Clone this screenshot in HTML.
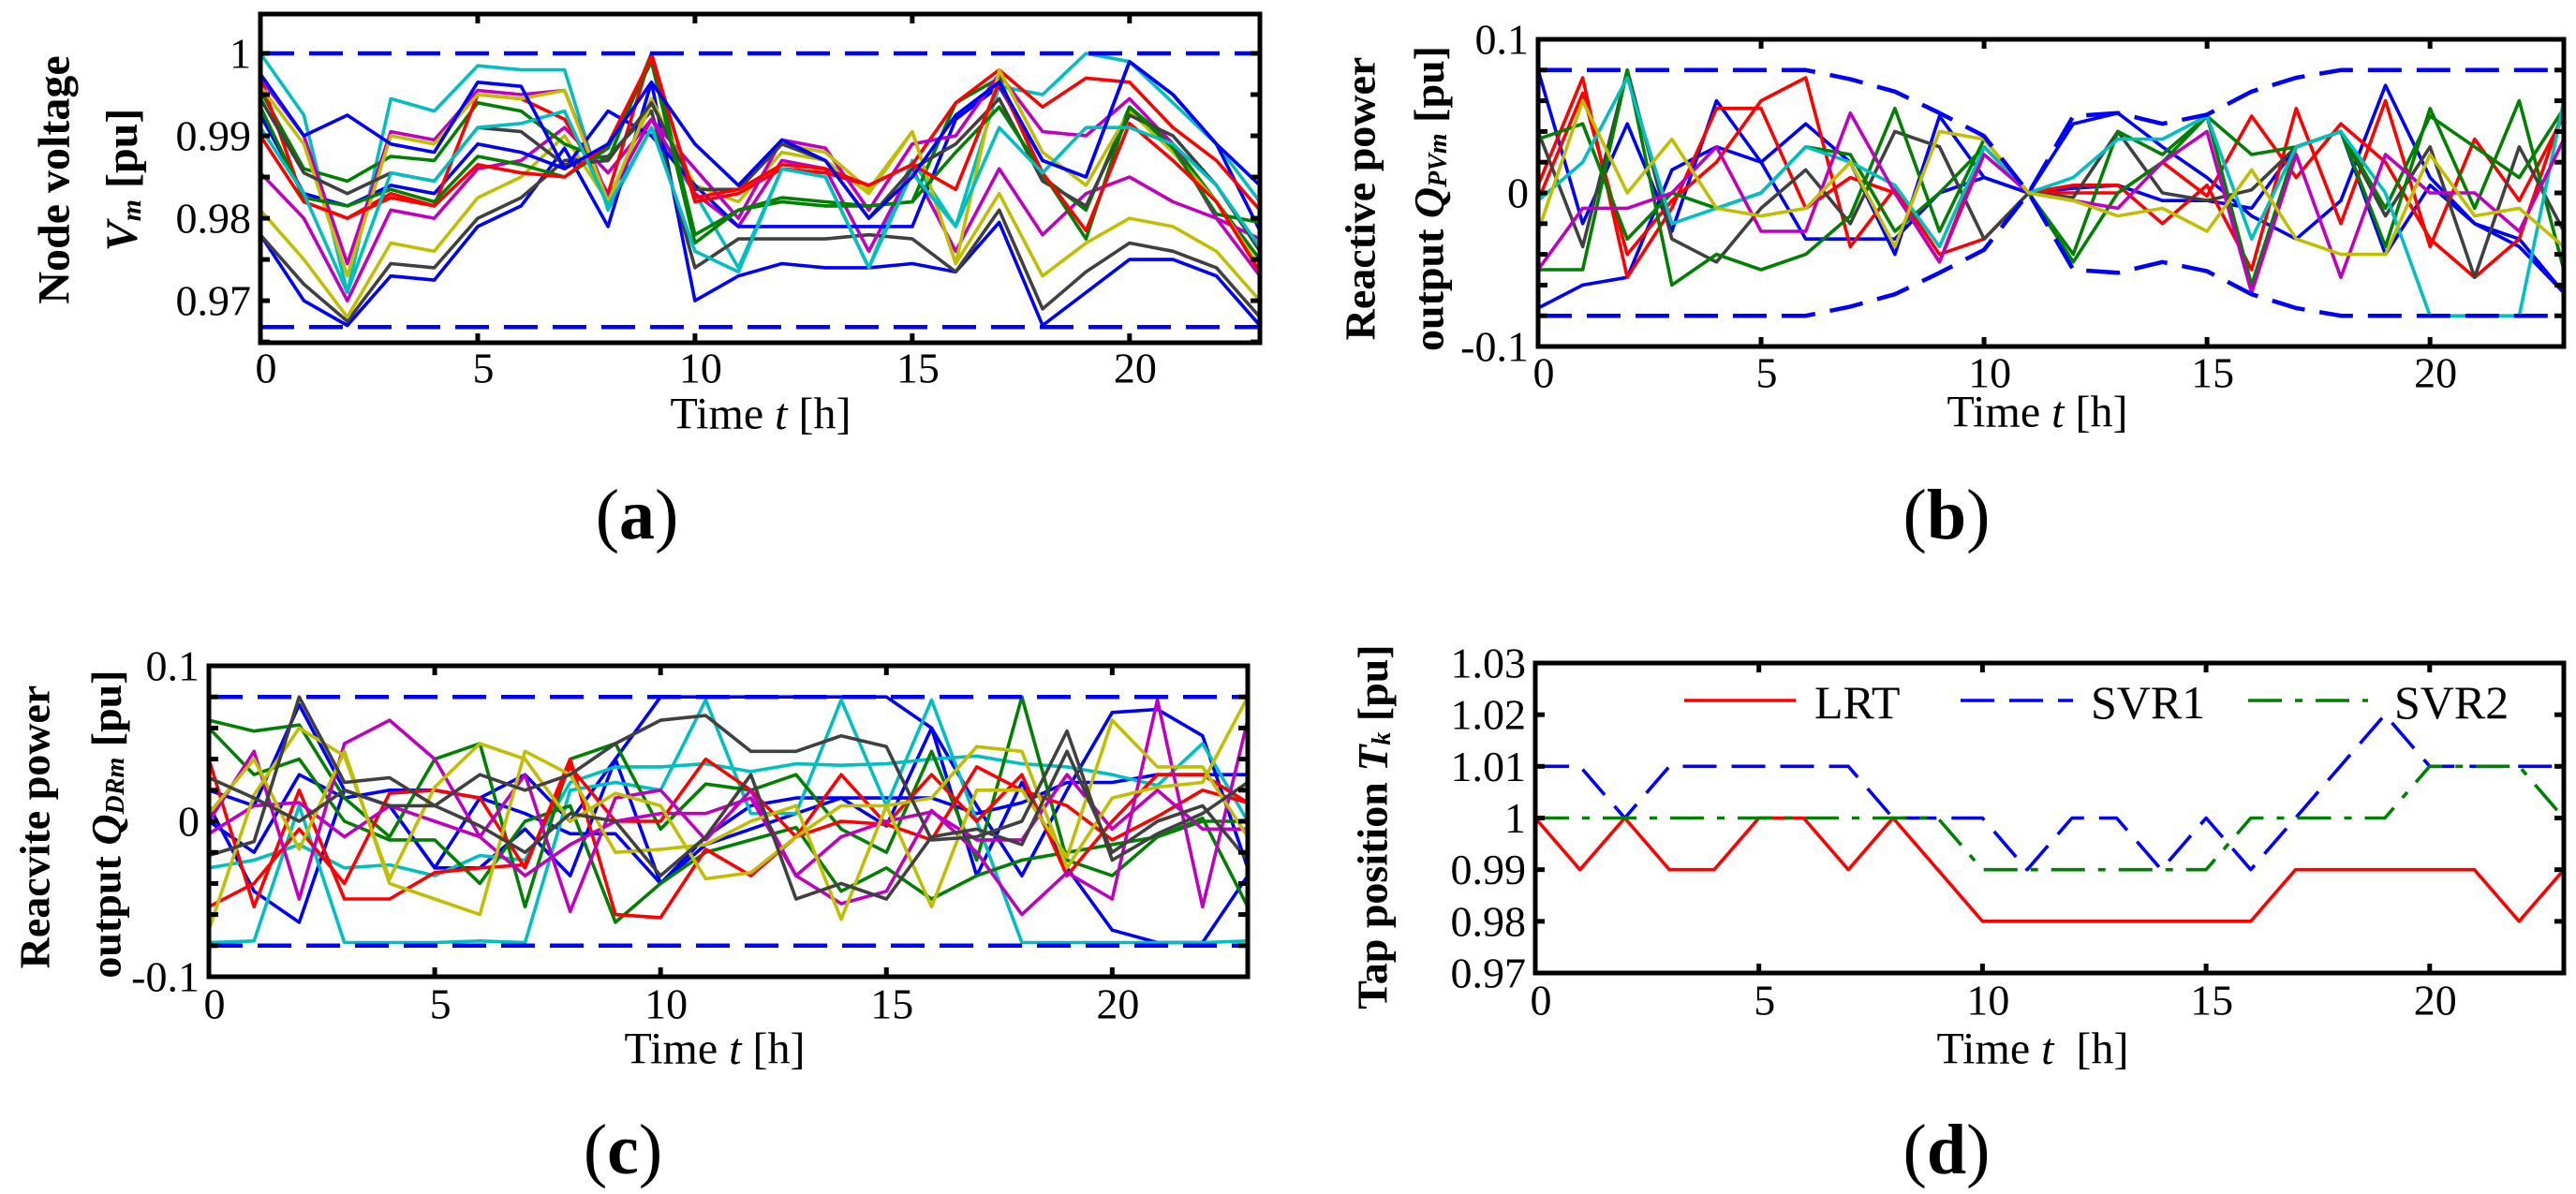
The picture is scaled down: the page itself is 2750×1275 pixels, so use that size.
<!DOCTYPE html>
<html><head><meta charset="utf-8"><title>Voltage, reactive power and tap position results</title>
<style>
html,body{margin:0;padding:0;background:#fff;}
svg{display:block;}
text{font-family:"Liberation Serif",serif;fill:#000;}
</style></head>
<body>
<svg id="fig" width="2750" height="1275" viewBox="0 0 2750 1275" xmlns="http://www.w3.org/2000/svg">
<rect x="0" y="0" width="2750" height="1275" fill="#fff"/>
</svg>
<script>
// ---------- shared data ----------
const hours = [0,1,2,3,4,5,6,7,8,9,10,11,12,13,14,15,16,17,18,19,20,21,22,23];
const xTickValues = [0,5,10,15,20];
const xTickLabels = ["0","5","10","15","20"];

// ---------- panel (a) data ----------
const aYTicks = [0.965,0.97,0.975,0.98,0.985,0.99,0.995,1.0];
const aYLabels = ["","0.97","","0.98","","0.99","","1"];
const aLimits = [1.0, 0.9668];
const aSeriesColors = ["#00bfbf","#0000ff","#404040","#bfbf00","#bf00bf","#0000ff","#008000","#ff0000","#bf00bf","#bfbf00","#404040","#008000","#ff0000","#00bfbf","#0000ff"];
const aS1 = [1.0,.9925,.971,.9945,.993,.9985,.998,.998,.981,.991,.983,.974,.986,.985,.974,.987,.979,.996,.995,1.0,.999,.994,.989,.982];
const aS2 = [.978,.970,.967,.973,.9725,.979,.9815,.9885,.979,.9965,.970,.973,.9745,.974,.974,.9745,.9735,.9795,.967,.971,.975,.975,.973,.967];
const aS3 = [.978,.972,.9675,.9745,.974,.980,.9825,.987,.9875,.993,.974,.9775,.9775,.9775,.978,.9775,.9735,.981,.969,.9735,.977,.976,.974,.968];
const aS4 = [.981,.975,.968,.977,.976,.9825,.985,.990,.982,.994,.984,.982,.988,.987,.983,.9905,.9745,.983,.973,.977,.980,.979,.976,.970];
const aS5 = [.9855,.980,.970,.981,.980,.986,.987,.991,.9855,.992,.983,.979,.987,.986,.976,.986,.976,.986,.978,.983,.985,.982,.980,.973];
const aS6 = [.9925,.983,.9815,.984,.983,.989,.988,.986,.993,.990,.984,.979,.979,.979,.979,.979,.992,.996,.987,.985,.999,.995,.989,.9785];
const aS7 = [.9955,.986,.9845,.9875,.987,.994,.993,.989,.987,1.0,.978,.981,.982,.9815,.9815,.982,.994,.997,.985,.981,.9935,.989,.982,.975];
const aS8 = [.997,.982,.980,.983,.9815,.995,.9945,.992,.983,1.0,.982,.983,.986,.9855,.984,.9865,.994,.998,.9935,.997,.9965,.991,.987,.981];
const aS9 = [.997,.990,.9745,.9905,.9895,.9955,.995,.9955,.9825,.992,.986,.980,.9895,.9885,.981,.989,.990,.9975,.9905,.990,.9945,.989,.980,.9775];
const aS10 = [.996,.989,.973,.990,.989,.995,.9945,.9955,.982,.9945,.9835,.9835,.989,.988,.9835,.9905,.9745,.998,.988,.984,.993,.988,.982,.974];
const aS11 = [.9945,.9855,.983,.9855,.9845,.991,.9905,.9865,.987,.994,.9835,.9835,.989,.987,.980,.986,.989,.9945,.9845,.9815,.9925,.990,.984,.976];
const aS12 = [.9935,.9825,.9815,.9835,.982,.9875,.9865,.985,.9885,.999,.977,.981,.9825,.982,.9815,.982,.988,.9935,.9855,.9775,.9935,.9885,.9805,.9795];
const aS13 = [.990,.982,.980,.9825,.9815,.9865,.9855,.985,.989,.9995,.9825,.9835,.9865,.986,.984,.9865,.9835,.9965,.9855,.9785,.9915,.987,.982,.9735];
const aS14 = [.991,.983,.971,.9855,.9845,.991,.9915,.993,.9815,.991,.976,.9735,.986,.985,.974,.9855,.979,.991,.9855,.991,.991,.989,.984,.9765];
const aS15 = [.9975,.990,.9925,.989,.988,.9965,.996,.986,.989,.9965,.989,.984,.9895,.987,.980,.985,.9925,.9965,.987,.985,.999,.995,.989,.984];

// ---------- panel (b) data ----------
const bYTicks = [-0.1,-0.08,-0.06,-0.04,-0.02,0,0.02,0.04,0.06,0.08,0.1];
const bYLabels = ["-0.1","","","","","0","","","","","0.1"];
const bBound = [.08,.08,.08,.08,.08,.08,.08,.074,.066,.052,.037,0,.05,.052,.045,.051,.066,.075,.08,.08,.08,.08,.08,.08];
const bSeriesColors = ["#0000ff","#0000ff","#ff0000","#ff0000","#404040","#008000","#008000","#00bfbf","#bf00bf","#bfbf00"];
const bS1 = [.08,-.02,.045,-.025,.06,.02,.045,.02,-.04,.05,.01,0,.045,.052,.03,.01,-.015,-.03,-.005,.07,.01,-.02,-.035,-.065];
const bS2 = [-.075,-.06,-.055,.015,.03,.02,-.03,-.03,-.03,.0,.01,0,.003,.005,-.005,-.005,-.01,.03,.04,-.04,.005,-.02,-.03,-.065];
const bS3 = [.005,.075,-.055,-.01,.055,.055,-.01,.01,.0,-.045,.03,0,.005,.005,-.02,.005,-.05,.055,-.02,.06,-.035,.035,-.005,.05];
const bS4 = [-.005,.065,-.04,-.005,.02,.06,.075,-.035,.003,-.04,-.03,0,.0,.0,.02,-.002,.05,.01,.045,.02,-.03,-.055,-.03,.055];
const bS5 = [.04,-.035,.08,-.03,-.045,-.01,.015,-.02,.04,.03,-.03,0,-.003,.04,.0,-.005,.002,.03,.04,-.015,.03,-.055,.03,-.025];
const bS6 = [.035,.045,-.03,.0,-.01,.0,.03,.025,-.025,.0,.03,0,-.045,.0,.02,.05,.025,.03,.04,-.01,.05,.03,.01,.055];
const bS7 = [-.05,-.05,.08,-.06,-.04,-.05,-.04,-.015,.055,-.025,.035,0,-.04,.04,.025,.05,-.06,.03,.04,-.035,.055,-.01,.06,-.05];
const bS8 = [-.005,.02,.075,-.02,-.01,.0,.03,.02,.005,-.035,.03,0,.01,.035,.035,.05,-.03,.03,.04,.0,-.08,-.08,-.08,.06];
const bS9 = [-.05,-.01,-.01,.0,.03,-.025,-.025,.052,.0,-.045,.025,0,-.005,-.01,.02,.04,-.065,.025,-.055,.025,0,.0,-.025,.035];
const bS10 = [-.025,.06,.0,.035,-.01,-.015,-.01,.02,-.035,.04,.035,0,-.005,-.015,-.01,-.025,.015,-.03,-.04,-.04,.025,-.015,-.01,-.035];

// ---------- panel (c) data ----------
const cYTicks = [-0.1,-0.08,-0.06,-0.04,-0.02,0,0.02,0.04,0.06,0.08,0.1];
const cYLabels = ["-0.1","","","","","0","","","","","0.1"];
const cLimits = [0.08,-0.08];
const cSeriesColors = ["#0000ff","#0000ff","#0000ff","#00bfbf","#00bfbf","#008000","#008000","#ff0000","#ff0000","#bf00bf","#bf00bf","#bfbf00","#bfbf00","#404040","#404040"];
const cS1 = [.02,.01,.075,.02,.01,-.03,.015,.03,.0,.04,.08,.08,.08,.08,.08,.08,.06,.01,-.035,.02,.07,.072,.055,-.03];
const cS2 = [.0,-.02,.03,.015,.02,.02,.015,.005,-.008,-.008,-.04,-.01,.01,.015,.015,.015,.015,.005,.012,.025,.025,.03,.03,.03];
const cS3 = [.01,-.045,-.065,.02,.01,-.03,-.03,-.005,-.035,.04,-.04,-.015,-.005,.005,.015,-.003,.06,-.035,.025,-.03,-.07,-.078,-.078,-.035];
const cS4 = [-.03,-.025,-.015,-.03,-.028,-.035,-.022,-.025,.025,.035,.035,.037,.032,.037,.036,.037,.04,.042,.037,.035,.03,.023,.05,.0];
const cS5 = [-.078,-.077,.01,-.078,-.078,-.078,-.077,-.078,.02,.025,.02,.078,.005,.005,.078,.01,.078,.0,-.078,-.078,-.078,-.078,-.078,-.077];
const cS6 = [.065,.058,.062,.015,-.01,.04,.05,-.055,.04,.05,-.005,.024,.02,.03,-.005,-.02,.045,-.025,.08,-.025,-.035,-.01,.0,.0];
const cS7 = [.06,.03,.04,.0,-.012,-.012,-.04,.0,.01,-.065,-.04,-.02,-.012,-.004,-.045,-.03,-.05,-.035,-.025,-.02,-.015,-.01,.002,-.055];
const cS8 = [.04,-.055,.02,-.05,-.05,-.033,-.03,-.028,.035,.0,.0,.04,.02,-.01,.0,-.002,-.012,.035,.02,.01,-.012,.003,.02,.012];
const cS9 = [-.055,-.04,-.005,-.04,.018,.02,.015,-.03,.04,-.06,-.062,-.018,-.035,-.01,.03,-.002,.03,.0,.03,-.035,.0,.03,.03,.012];
const cS10 = [.0,.045,-.05,.05,.065,.04,-.01,.03,-.058,.015,.02,-.012,.02,-.035,-.053,-.045,.007,-.02,-.06,-.033,-.05,.078,-.055,.065];
const cS11 = [-.008,.01,.012,-.01,.01,.0,-.01,-.035,-.015,.0,.005,.005,.015,-.035,-.01,.0,.006,-.012,-.012,.03,-.005,.02,-.005,-.005];
const cS12 = [-.07,.017,.06,.042,-.037,.022,.05,.04,.0,.018,.01,-.037,-.033,-.01,.01,.01,.015,.048,.045,-.03,.015,.022,.025,.08];
const cS13 = [.005,.04,-.018,.045,-.04,-.05,-.06,.045,.03,-.02,-.018,-.015,.0,.01,-.063,.01,-.055,.02,.02,-.023,.065,.035,.035,-.01];
const cS14 = [-.022,-.013,.08,.025,.028,.01,.03,.02,.03,.05,.065,.068,.045,.045,.055,.048,-.012,-.01,.0,.058,-.025,-.008,.005,.025];
const cS15 = [.028,.015,.0,.02,.01,.01,-.003,-.02,.005,.0,-.035,-.01,.03,-.05,-.04,-.05,-.01,-.005,-.015,.045,-.02,.0,.01,-.025];

// ---------- panel (d) data ----------
const dYTicks = [0.97,0.98,0.99,1.0,1.01,1.02,1.03];
const dYLabels = ["0.97","0.98","0.99","1","1.01","1.02","1.03"];
const dSeriesNames = ["LRT","SVR1","SVR2"];
const dLRT = [1,.99,1,.99,.99,1,1,.99,1,.99,.98,.98,.98,.98,.98,.98,.98,.99,.99,.99,.99,.99,.98,.99];
const dSVR1 = [1.01,1.01,1.0,1.01,1.01,1.01,1.01,1.01,1.0,1.0,1.0,.99,1.0,1.0,.99,1.0,.99,1.0,1.01,1.02,1.01,1.01,1.01,1.01];
const dSVR2 = [1,1,1,1,1,1,1,1,1,1,.99,.99,.99,.99,.99,.99,1,1,1,1,1.01,1.01,1.01,1.0];

// ---------- drawing ----------
const NS = "http://www.w3.org/2000/svg";
const fig = document.getElementById("fig");
function mk(tag, attrs, parent){
  const e = document.createElementNS(NS, tag);
  for (const k in attrs) e.setAttribute(k, attrs[k]);
  (parent||fig).appendChild(e);
  return e;
}
function makeScale(d0,d1,r0,r1){ return v => r0 + (v-d0)/(d1-d0)*(r1-r0); }

function drawPanel(p){
  const g = mk("g", {});
  
  
  const xs = makeScale(0,23,p.L,p.R);
  const ys = makeScale(p.ymin,p.ymax,p.B,p.T);
  const sg = mk("g", {}, g);
  
  
  p.series.forEach((s, i) => {
    const pts = hours.map((h,j) => xs(h).toFixed(1)+","+ys(s.values[j]).toFixed(1)).join(" ");
    const pl = mk("polyline", {points: pts, fill:"none", stroke: s.color, "stroke-width": s.w||3.6, "stroke-linejoin":"round", "stroke-dasharray": s.dash||"none"}, sg);
    
    
  });
  const fr = mk("rect", {x:p.L, y:p.T, width:p.R-p.L, height:p.B-p.T, fill:"none", stroke:"#000", "stroke-width":5}, g);
  
  
  xTickValues.forEach((v,i) => {
    const x = xs(v);
    mk("line", {x1:x, y1:p.B, x2:x, y2:p.B-10, stroke:"#000", "stroke-width":5}, g);
    mk("line", {x1:x, y1:p.T, x2:x, y2:p.T+10, stroke:"#000", "stroke-width":5}, g);
    const t = mk("text", {x:x+6, y:p.xlabY, "font-size":46, "text-anchor":"middle", "dominant-baseline":"central"}, g);
    t.textContent = xTickLabels[i];
    
    
  });
  p.yTicks.forEach((v,i) => {
    const y = ys(v);
    mk("line", {x1:p.L, y1:y, x2:p.L+10, y2:y, stroke:"#000", "stroke-width":5}, g);
    mk("line", {x1:p.R, y1:y, x2:p.R-10, y2:y, stroke:"#000", "stroke-width":5}, g);
    if (p.yLabels[i]) {
      const t = mk("text", {x:p.L-10, y:y, "font-size":46, "text-anchor":"end", "dominant-baseline":"central"}, g);
      t.textContent = p.yLabels[i];
      
      
    }
  });
  const xt = mk("text", {x:p.xtitleX, y:p.xtitleY, "font-size":48, "text-anchor":"middle", "dominant-baseline":"central"}, g);
  xt.innerHTML = 'Time <tspan font-style="italic">t</tspan>' + (p.xtitleGap ? '&#160;' : '') + ' [h]';
  
  
  p.ytitles.forEach(tt => {
    const t = mk("text", {x:0, y:0, "font-size":tt.fs||46, "font-weight":"bold", "text-anchor":"middle", "dominant-baseline":"central", transform:"translate("+tt.x+","+tt.y+") rotate(-90)"}, g);
    t.innerHTML = tt.html;
    
    
  });
  const pl = mk("text", {x:p.labX, y:p.labY, "font-size":76, "text-anchor":"middle", "dominant-baseline":"central"}, g);
  pl.innerHTML = '(<tspan font-weight="bold">' + p.letter + '</tspan>)';
  
  
  return {g, xs, ys};
}

// panel (a)
const aData = [aS1,aS2,aS3,aS4,aS5,aS6,aS7,aS8,aS9,aS10,aS11,aS12,aS13,aS14,aS15];
const aSeries = aData.map((v,i) => ({values:v, color:aSeriesColors[i], name:'node-voltage-line-'+(i+1)}));
aSeries.push({values: hours.map(() => aLimits[0]), color:"#0000ff", dash:"36 16", w:4.5, name:'voltage-upper-limit'});
aSeries.push({values: hours.map(() => aLimits[1]), color:"#0000ff", dash:"36 16", w:4.5, name:'voltage-lower-limit'});
drawPanel({name:"panel-a-node-voltage", letter:"a", L:278, R:1345, T:15, B:366, ymin:0.9649, ymax:1.00477,
  series:aSeries, yTicks:aYTicks, yLabels:aYLabels, xlabY:393, xtitleX:812, xtitleY:442,
  ytitles:[{x:58,y:192,html:'Node voltage',fs:48},{x:130,y:192,html:'<tspan font-style="italic">V</tspan><tspan font-style="italic" font-size="30" dy="10">m</tspan><tspan dy="-10"> [pu]</tspan>',fs:48}],
  labX:680, labY:550});

// panel (b)
const bData = [bS1,bS2,bS3,bS4,bS5,bS6,bS7,bS8,bS9,bS10];
const bSeries = bData.map((v,i) => ({values:v, color:bSeriesColors[i], name:'pv-reactive-line-'+(i+1)}));
bSeries.push({values: bBound.slice(), color:"#0000ff", dash:"36 16", w:4.5, name:'pv-upper-bound'});
bSeries.push({values: bBound.map(v => -v), color:"#0000ff", dash:"36 16", w:4.5, name:'pv-lower-bound'});
drawPanel({name:"panel-b-pv-reactive-power", letter:"b", L:1642, R:2737, T:42, B:370, ymin:-0.1, ymax:0.1,
  series:bSeries, yTicks:bYTicks, yLabels:bYLabels, xlabY:398, xtitleX:2175, xtitleY:440,
  ytitles:[{x:1452,y:212,html:'Reactive power',fs:46},{x:1525,y:212,html:'output <tspan font-style="italic">Q</tspan><tspan font-style="italic" font-size="28" dy="10">PVm</tspan><tspan dy="-10"> [pu]</tspan>',fs:46}],
  labX:2078, labY:550});

// panel (c)
const cData = [cS1,cS2,cS3,cS4,cS5,cS6,cS7,cS8,cS9,cS10,cS11,cS12,cS13,cS14,cS15];
const cSeries = cData.map((v,i) => ({values:v, color:cSeriesColors[i], name:'dr-reactive-line-'+(i+1)}));
cSeries.push({values: hours.map(() => cLimits[0]), color:"#0000ff", dash:"36 16", w:4.5, name:'dr-upper-limit'});
cSeries.push({values: hours.map(() => cLimits[1]), color:"#0000ff", dash:"36 16", w:4.5, name:'dr-lower-limit'});
drawPanel({name:"panel-c-dr-reactive-power", letter:"c", L:223, R:1332, T:711, B:1043, ymin:-0.1, ymax:0.1,
  series:cSeries, yTicks:cYTicks, yLabels:cYLabels, xlabY:1072, xtitleX:763, xtitleY:1120,
  ytitles:[{x:37,y:883,html:'Reacvite power',fs:46},{x:113,y:880,html:'output <tspan font-style="italic">Q</tspan><tspan font-style="italic" font-size="28" dy="10">DRm</tspan><tspan dy="-10"> [pu]</tspan>',fs:46}],
  labX:665, labY:1228});

// panel (d)
const dSeries = [
  {values:dLRT, color:"#ff0000", name:'lrt-line'},
  {values:dSVR1, color:"#0000ff", dash:"36 16", name:'svr1-line'},
  {values:dSVR2, color:"#008000", dash:"36 14 8 14", name:'svr2-line'}
];
const dp = drawPanel({name:"panel-d-tap-position", letter:"d", L:1639, R:2737, T:708, B:1039, ymin:0.97, ymax:1.03,
  series:dSeries, yTicks:dYTicks, yLabels:dYLabels, xlabY:1068, xtitleX:2170, xtitleY:1120, xtitleGap:true,
  ytitles:[{x:1465,y:883,html:'Tap position <tspan font-style="italic">T</tspan><tspan font-style="italic" font-size="28" dy="10">k</tspan><tspan dy="-10"> [pu]</tspan>',fs:46}],
  labX:2078, labY:1228});

const legend = mk("g", {}, dp.g);


const legLines = [[1798,1917,"#ff0000","none",1937],[2093,2213,"#0000ff","36 16",2232],[2400,2528,"#008000","36 14 8 14",2556]];
legLines.forEach((l,i) => {
  const ent = mk("g", {}, legend);
  
  
  mk("line", {x1:l[0], y1:748, x2:l[1], y2:748, stroke:l[2], "stroke-width":3.6, "stroke-dasharray":l[3]}, ent);
  const t = mk("text", {x:l[4], y:750, "font-size":50, "dominant-baseline":"central"}, ent);
  t.textContent = dSeriesNames[i];
});
</script>
</body></html>
